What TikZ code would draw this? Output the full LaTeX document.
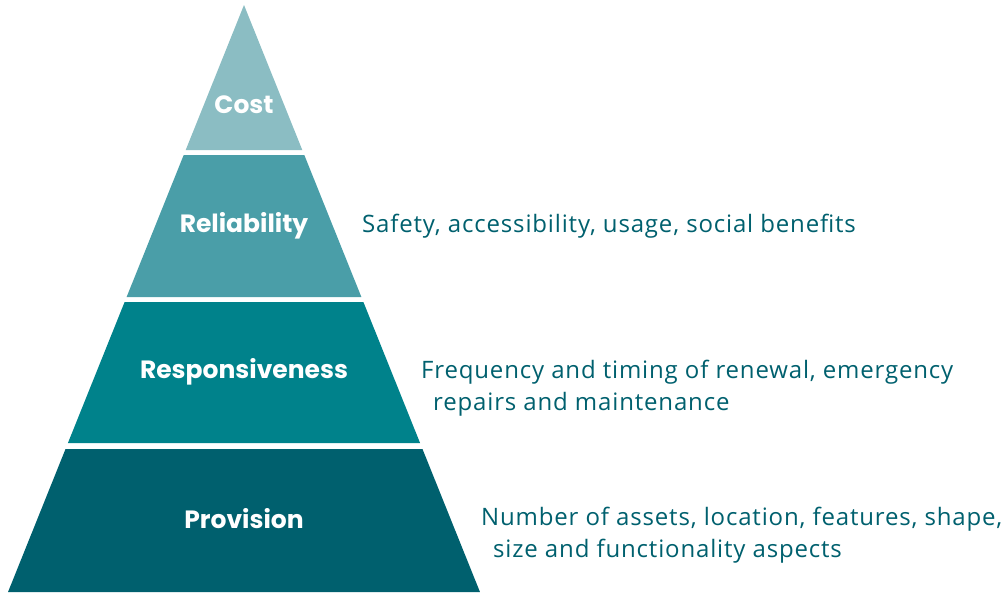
\documentclass[tikz,border=0pt]{standalone}
\usepackage{fontspec}
\setmainfont{Open Sans}[LetterSpace=3.5]
\newfontfamily\labelfont{Poppins}
\usetikzlibrary{calc}
\definecolor{costcol}{HTML}{8BBDC3}
\definecolor{relcol}{HTML}{4A9EA8}
\definecolor{respcol}{HTML}{00828B}
\definecolor{provcol}{HTML}{00606E}
\colorlet{desccol}{provcol}
\tikzstyle{layer label}=[white,font=\labelfont\bfseries\fontsize{25}{29}\selectfont,inner sep=0]
\tikzstyle{layer desc}=[desccol,anchor=west,align=left,inner sep=0,font=\fontsize{24}{32}\selectfont]

\begin{document}
\begin{tikzpicture}[x=1pt,y=-1pt]
  \useasboundingbox (0,0) rectangle (1006,592);

  \def\apexx{244}
  \def\apexy{5}
  \def\slope{0.402} % half width per unit of height

  % PYRAMID LAYERS
  \foreach \top/\bot/\col/\name/\laby/\lab in {
      5/150/costcol/cost/105/Cost,
      155/297/relcol/rel/226/Reliability,
      302/443/respcol/resp/372/Responsiveness,
      449/592/provcol/prov/519/Provision}{
    \pgfmathsetmacro\a{(\top-\apexy)*\slope}
    \pgfmathsetmacro\b{(\bot-\apexy)*\slope}
    \fill[\col] (\apexx-\a,\top) -- (\apexx+\a,\top) -- (\apexx+\b,\bot) -- (\apexx-\b,\bot) -- cycle;
    \node[layer label] (\name) at (\apexx,\laby) {\lab};
  }

  % DESCRIPTIONS
  \node[layer desc] (rel desc) at (362,226) {Safety, accessibility, usage, social benefits};
  \node[layer desc] (resp desc) at (421,388) {Frequency and timing of renewal, emergency\\\hspace{12pt}repairs and maintenance};
  \node[layer desc] (prov desc) at (481,535) {Number of assets, location, features, shape,\\\hspace{12pt}size and functionality aspects};

\end{tikzpicture}
\end{document}
